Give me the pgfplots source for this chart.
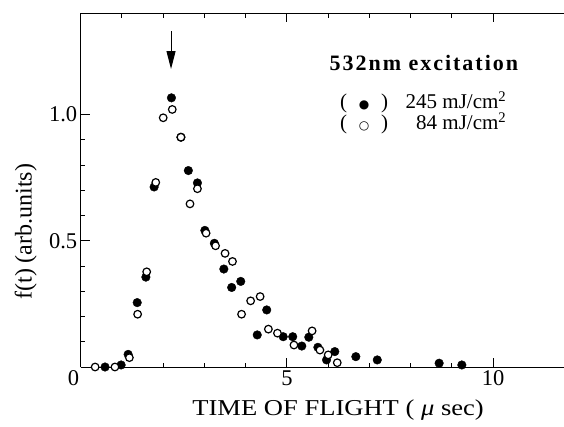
\documentclass[border=0pt]{standalone}
\usepackage{pgfplots}
\pgfplotsset{compat=1.18}
\usetikzlibrary{arrows.meta}
\usepackage{fontspec}
\setmainfont{Liberation Serif}
\newfontfamily\widefont[FakeStretch=1.17]{Liberation Serif}
\newfontfamily\symfont{DejaVu Sans}

% time-of-flight distributions, f(t) in arbitrary units
\pgfplotstableread{
t     f
0.59  0.000
0.98  0.008
1.15  0.050
1.37  0.255
1.58  0.356
1.78  0.713
2.20  1.066
2.43  0.910
2.61  0.778
2.83  0.729
3.01  0.541
3.24  0.490
3.47  0.388
3.66  0.315
3.88  0.339
4.28  0.127
4.51  0.226
4.91  0.120
5.14  0.120
5.36  0.083
5.53  0.118
5.75  0.078
5.96  0.028
6.16  0.061
6.67  0.041
7.19  0.028
8.69  0.015
9.24  0.008
}\highfluence

\pgfplotstableread{
t     f
0.35  0.000
0.83  0.000
1.18  0.037
1.38  0.209
1.60  0.377
1.82  0.731
2.00  0.987
2.22  1.020
2.43  0.910
2.65  0.646
2.83  0.706
3.04  0.530
3.27  0.480
3.50  0.450
3.68  0.418
3.90  0.209
4.12  0.262
4.35  0.279
4.55  0.150
4.77  0.134
5.17  0.087
5.61  0.143
5.80  0.067
6.00  0.048
6.22  0.017
}\lowfluence

\begin{document}
\begin{tikzpicture}
\begin{axis}[
  at={(0,0)}, anchor=south west,
  scale only axis,
  width=483.3bp, height=353.5bp,
  xmin=0, xmax=11.717, ymin=0, ymax=1.4,
  axis x line*=box, axis y line*=left,
  axis line style={-, line width=1bp, black},
  xtick={0,5,10}, xticklabels={\makebox[0pt][r]{0\hspace{1.5bp}},5,10},
  minor x tick num=4,
  ytick={0,0.5,1}, yticklabels={,0.5,1.0}, minor y tick num=4,
  major tick length=9bp, minor tick length=4.5bp,
  tick style={line width=0.9bp, black},
  tick align=inside,
  /pgf/number format/assume math mode=true,
  ticklabel style={font=\fontsize{22.5bp}{24bp}\selectfont},
  xlabel={TIME OF FLIGHT ( \textit{μ} sec)},
  ylabel={f(t) (arb.units)},
  every axis x label/.style={at={(axis cs:6.24,-0.171)}, anchor=center,
    font=\widefont\fontsize{22.7bp}{25bp}\selectfont},
  every axis y label/.style={at={(axis cs:-1.33,0.536)}, anchor=center, rotate=90,
    font=\fontsize{24bp}{26bp}\selectfont},
  clip=false,
]
% 245 mJ/cm^2 (filled)
\addplot[only marks, mark=*, mark size=4.3bp,
  mark options={fill=black, draw=black}] table[x=t, y=f] {\highfluence};
% 84 mJ/cm^2 (open)
\addplot[only marks, mark=*, mark size=3.8bp,
  mark options={fill=white, draw=black, line width=1.2bp}] table[x=t, y=f] {\lowfluence};

% peak marker
\draw[line width=1bp, -{Triangle[length=18bp, width=9bp]}]
  (axis cs:2.19,1.33) -- (axis cs:2.19,1.18);

\node[font=\bfseries\fontsize{22bp}{24bp}\selectfont\addfontfeatures{LetterSpace=9}]
  at (axis cs:8.32,1.206) {532nm excitation};
\node[anchor=base west, inner sep=0, font=\fontsize{21bp}{23bp}\selectfont]
  at (axis cs:6.286,1.022)
  {(\hspace{17bp}\makebox[0pt]{\symfont\fontsize{12bp}{14bp}\selectfont ●}\hspace{17bp})\makebox[49bp][r]{245}\ mJ/cm\textsuperscript{2}};
\node[anchor=base west, inner sep=0, font=\fontsize{21bp}{23bp}\selectfont]
  at (axis cs:6.286,0.940)
  {(\hspace{17bp}\makebox[0pt]{\symfont\fontsize{12bp}{14bp}\selectfont ○}\hspace{17bp})\makebox[49bp][r]{84}\ mJ/cm\textsuperscript{2}};
\end{axis}
\pgfresetboundingbox
\path[use as bounding box] (-80.7bp,-60bp) rectangle (483.3bp,367bp);
\end{tikzpicture}
\end{document}
